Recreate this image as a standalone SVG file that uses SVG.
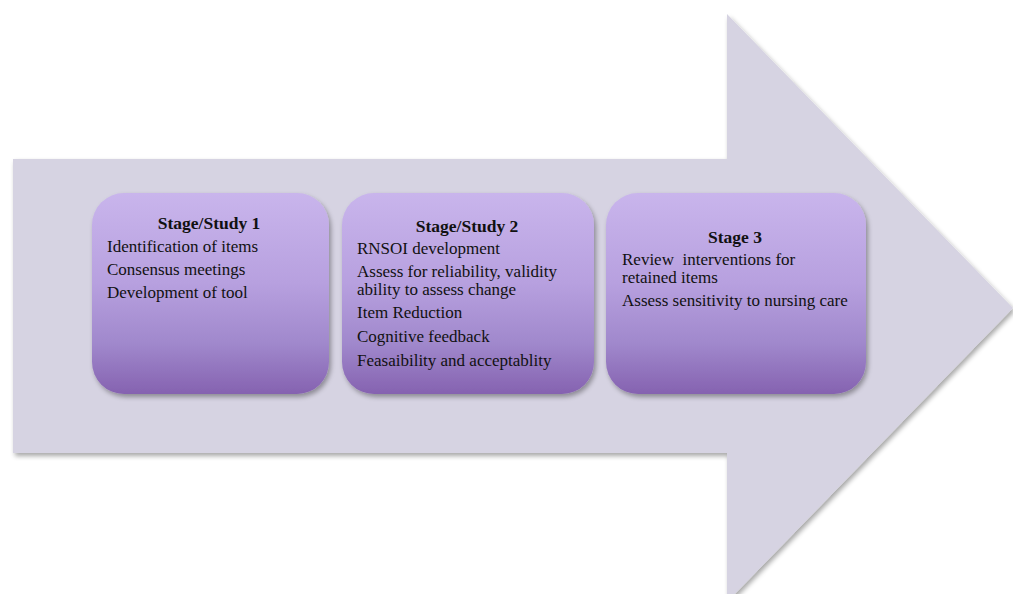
<svg xmlns="http://www.w3.org/2000/svg" width="1013" height="594" viewBox="0 0 1013 594">
<defs>
<linearGradient id="boxg" x1="0" y1="0" x2="0" y2="1">
<stop offset="0" stop-color="#c9b5ec"/>
<stop offset="0.45" stop-color="#b7a0df"/>
<stop offset="0.75" stop-color="#a088cc"/>
<stop offset="1" stop-color="#8562b0"/>
</linearGradient>
<filter id="sh" x="-10%" y="-10%" width="120%" height="125%">
<feGaussianBlur in="SourceAlpha" stdDeviation="2.5"/>
<feOffset dx="2" dy="3" result="b"/>
<feComponentTransfer><feFuncA type="linear" slope="0.35"/></feComponentTransfer>
<feMerge><feMergeNode/><feMergeNode in="SourceGraphic"/></feMerge>
</filter>
</defs>
<style>
.box{fill:url(#boxg);filter:url(#sh)}
text{font-family:"Liberation Serif","DejaVu Serif",serif;font-size:17px;fill:#111}
.t{font-weight:bold;text-anchor:middle;font-size:17.5px}
</style>
<rect width="1013" height="594" fill="#ffffff"/>
<g id="arrow" filter="url(#sh)">
<path d="M13,159 L727,159 L727,14 L1013,308 L727,602 L727,453 L13,453 Z" fill="#d6d3e2"/>
</g>
<g id="stage1">
<rect class="box" x="92" y="193" width="237" height="201" rx="32"/>
<text class="t" x="209" y="229">Stage/Study 1</text>
<text x="107" y="252">Identification of items</text>
<text x="107" y="275">Consensus meetings</text>
<text x="107" y="298">Development of tool</text>
</g>
<g id="stage2">
<rect class="box" x="342" y="193" width="252" height="201" rx="32"/>
<text class="t" x="467" y="232">Stage/Study 2</text>
<text x="357" y="254">RNSOI development</text>
<text x="357" y="277">Assess for reliability, validity</text>
<text x="357" y="295">ability to assess change</text>
<text x="357" y="318">Item Reduction</text>
<text x="357" y="342">Cognitive feedback</text>
<text x="357" y="366">Feasaibility and acceptablity</text>
</g>
<g id="stage3">
<rect class="box" x="606" y="193" width="260" height="201" rx="32"/>
<text class="t" x="735" y="243">Stage 3</text>
<text x="622" y="265" xml:space="preserve">Review  interventions for</text>
<text x="622" y="283">retained items</text>
<text x="622" y="306">Assess sensitivity to nursing care</text>
</g>
<g id="connectors"/>
</svg>
